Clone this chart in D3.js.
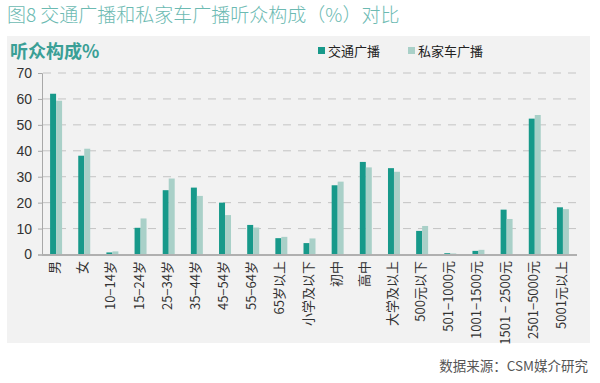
<!DOCTYPE html>
<html><head><meta charset="utf-8">
<script src="https://cdn.jsdelivr.net/npm/d3@7/dist/d3.min.js"></script>
<style>body{margin:0;background:#fff;}svg{display:block;font-family:"Noto Sans CJK SC","Liberation Sans",sans-serif;}</style>
</head><body>
<svg id="c" width="600" height="383"></svg>
<script>
const categories = ["男","女","10−14岁","15−24岁","25−34岁","35−44岁","45−54岁","55−64岁","65岁以上","小学及以下","初中","高中","大学及以上","500元以下","501−1000元","1001−1500元","1501 − 2500元","2501−5000元","5001元以上"];
const trafficRadio = [62.0,38.1,0.8,10.3,24.8,25.8,20.0,11.4,6.3,4.4,26.7,35.7,33.3,9.1,0.5,1.4,17.3,52.4,18.2];
const carRadio = [59.3,40.8,1.2,13.9,29.3,22.6,15.2,10.4,6.8,6.2,28.1,33.6,31.9,11.0,0.4,1.8,13.7,53.8,17.5];
const seriesNames = ["交通广播","私家车广播"];
const yTicks = [0,10,20,30,40,50,60,70];

const colors = ["#17998a","#a9d0c8"];
const svg = d3.select("#c");

svg.append("text").attr("x",7).attr("y",22).attr("fill","#6cbab2")
  .attr("font-size",19).attr("font-weight",300).text("图8 交通广播和私家车广播听众构成（%）对比");

svg.append("rect").attr("x",7).attr("y",36).attr("width",583).attr("height",307).attr("fill","#f2f2f2");

svg.append("text").attr("x",10).attr("y",58).attr("fill","#3a9f96")
  .attr("font-size",18).attr("font-weight","bold").text("听众构成%");

const x0 = d3.scaleBand().domain(categories).range([42,577]).paddingInner(0).paddingOuter(0);
const x1 = d3.scaleBand().domain(seriesNames).range([0,x0.bandwidth()]).paddingInner(0).paddingOuter(1.35);
const y = d3.scaleLinear().domain([0,70]).range([254.5,73]);

// grid
svg.append("g").selectAll("line").data(yTicks.filter(d=>d>0)).join("line")
  .attr("x1",43).attr("x2",583).attr("y1",d=>y(d)).attr("y2",d=>y(d))
  .attr("stroke","#c4c4c4").attr("stroke-width",1).attr("stroke-dasharray","8,7");

// y axis
const yAxis = svg.append("g").attr("transform","translate(42,0)")
  .call(d3.axisLeft(y).tickValues(yTicks).tickSize(4).tickPadding(6));
yAxis.select(".domain").attr("stroke","#a8a8a8");
yAxis.selectAll(".tick line").attr("stroke","#a8a8a8");
yAxis.selectAll("text").attr("font-size",14).attr("fill","#333").attr("font-family","Liberation Sans, Arial, sans-serif");

// bars
const data = categories.map((c,i)=>({c, vals:[trafficRadio[i],carRadio[i]]}));
const groups = svg.append("g").selectAll("g").data(data).join("g")
  .attr("transform",d=>`translate(${x0(d.c)},0)`);
groups.selectAll("rect").data(d=>d.vals.map((v,k)=>({k,v}))).join("rect")
  .attr("x",d=>x1(seriesNames[d.k])).attr("width",x1.bandwidth())
  .attr("y",d=>y(d.v)).attr("height",d=>y(0)-y(d.v)).attr("fill",d=>colors[d.k]);

// x axis
svg.append("line").attr("x1",42).attr("x2",577).attr("y1",y(0)+0.5).attr("y2",y(0)+0.5)
  .attr("stroke","#b0b0b0").attr("stroke-width",2);

svg.append("g").selectAll("text").data(categories).join("text")
  .attr("transform",d=>`translate(${x0(d)+x0.bandwidth()/2+3},261) rotate(-90)`)
  .attr("text-anchor","end").attr("font-size",13).attr("fill","#333").text(d=>d);

// legend
const lg = svg.append("g");
seriesNames.forEach((n,i)=>{
  const lx = [318,408][i];
  lg.append("rect").attr("x",lx).attr("y",47).attr("width",7).attr("height",7).attr("fill",colors[i]);
  lg.append("text").attr("x",lx+10).attr("y",56).attr("font-size",13).attr("fill","#222").text(n);
});

svg.append("text").attr("x",588).attr("y",371).attr("text-anchor","end")
  .attr("font-size",13.5).attr("fill","#555").text("数据来源：CSM媒介研究");
</script>
</body></html>
